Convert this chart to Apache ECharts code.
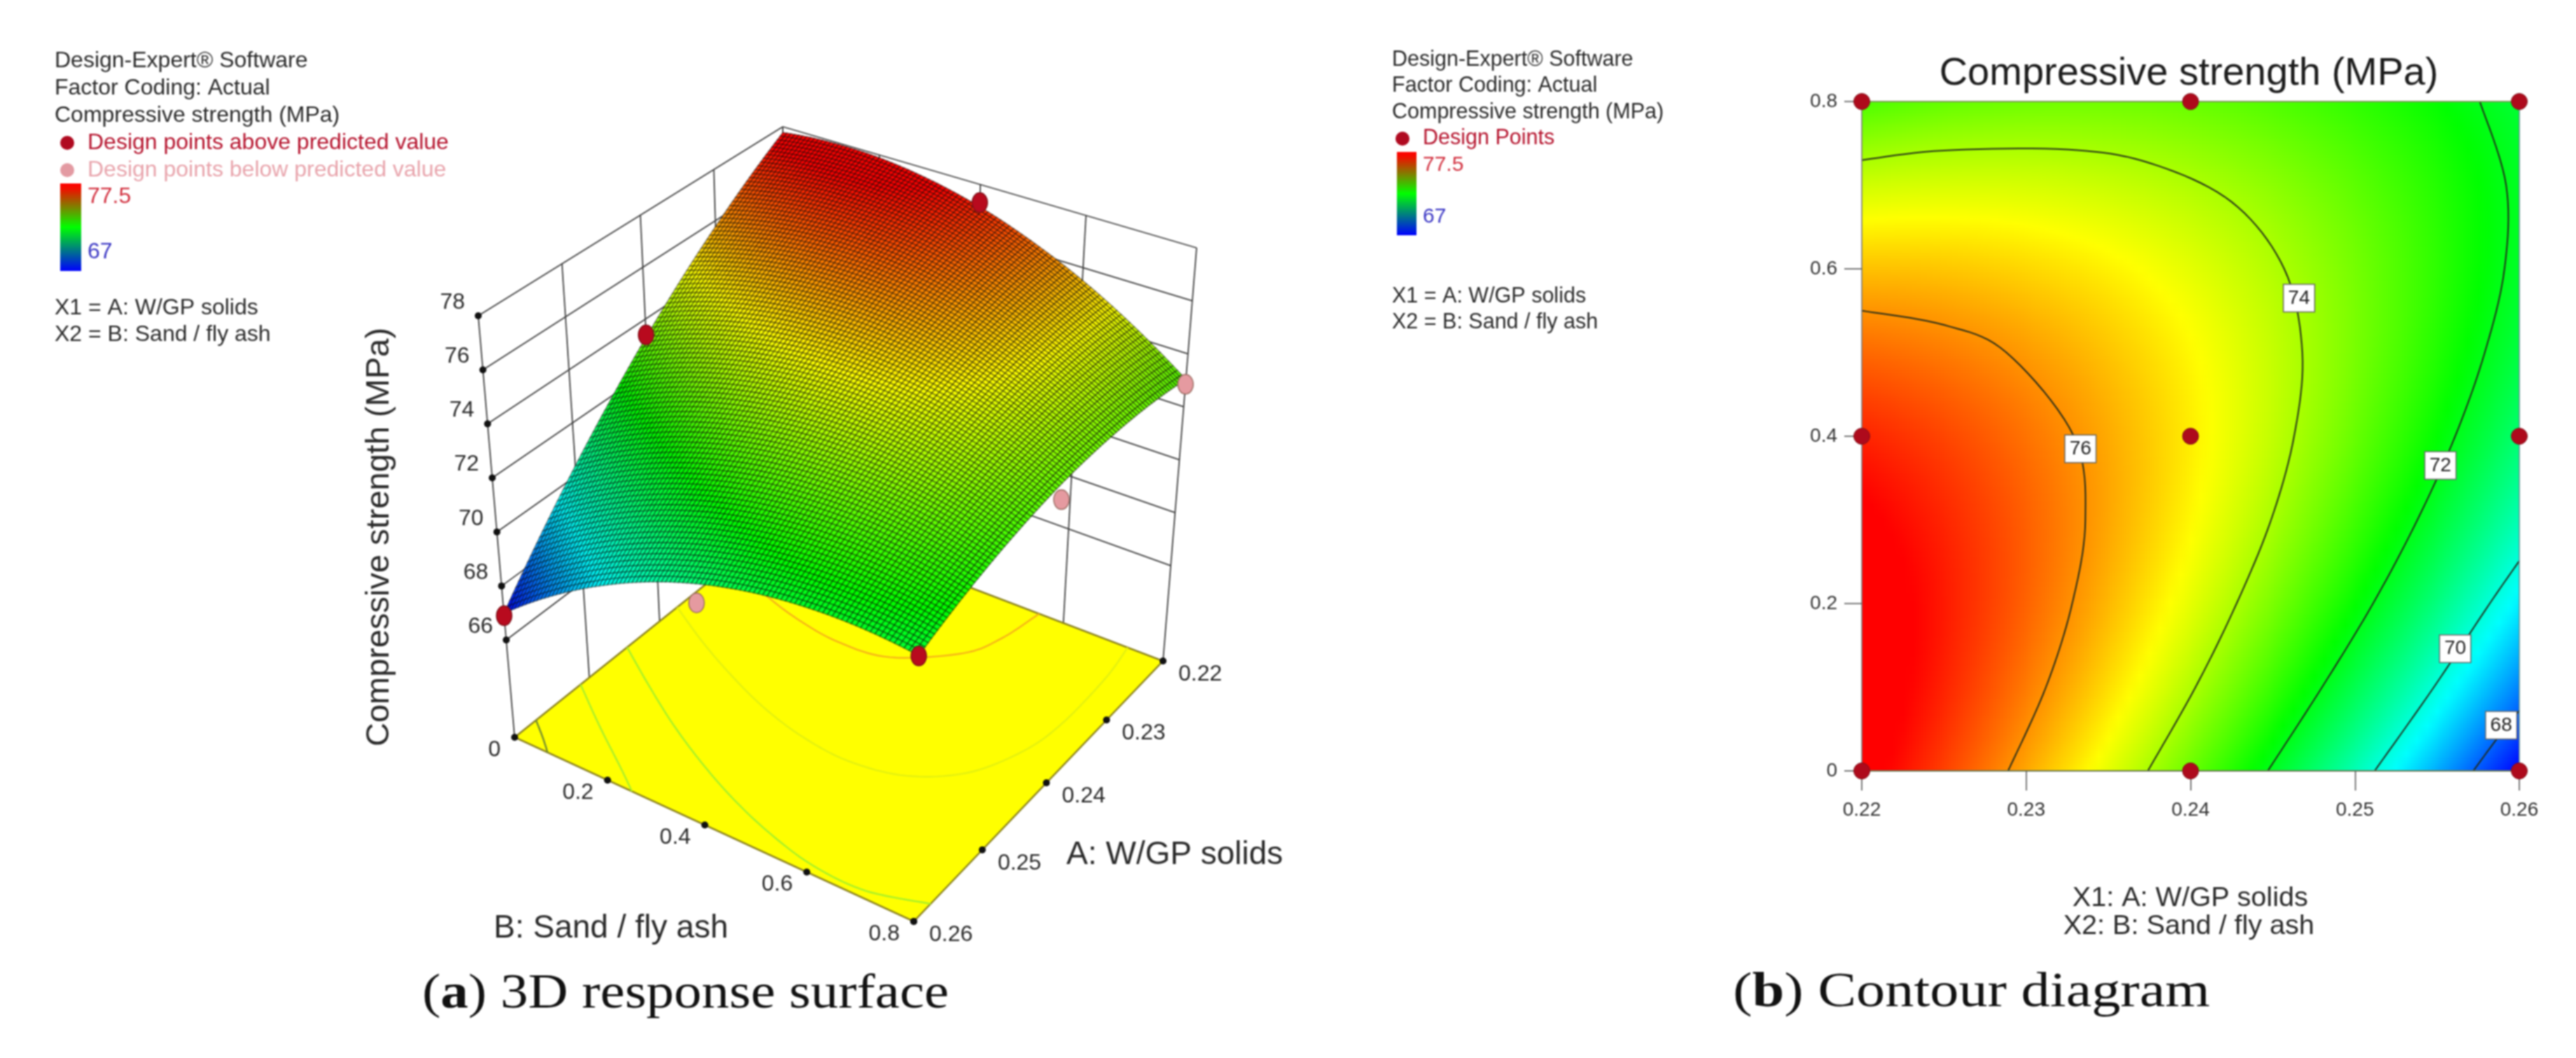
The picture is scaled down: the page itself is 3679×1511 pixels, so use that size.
<!DOCTYPE html>
<html>
<head>
<meta charset="utf-8">
<style>html,body{margin:0;padding:0;background:#fff}#c{width:3679px;height:1511px;filter:blur(0.9px)}</style>
<script src="https://cdn.jsdelivr.net/npm/echarts@6/dist/echarts.min.js"></script>
</head>
<body>
<div id="c"></div>
<script>
// ---------- data ----------
const wgpSolids = [0.22, 0.225, 0.23, 0.235, 0.24, 0.245, 0.25, 0.255, 0.26];
const sandFlyAsh = [0, 0.1, 0.2, 0.3, 0.4, 0.5, 0.6, 0.7, 0.8];
const strengthB00 = [77.77, 76.83, 75.77, 74.60, 73.31, 71.90, 70.38, 68.74, 66.99];
const strengthB01 = [77.94, 77.14, 76.23, 75.21, 74.07, 72.81, 71.43, 69.94, 68.34];
const strengthB02 = [77.89, 77.24, 76.48, 75.60, 74.61, 73.50, 72.27, 70.93, 69.47];
const strengthB03 = [77.62, 77.12, 76.51, 75.78, 74.93, 73.97, 72.89, 71.70, 70.39];
const strengthB04 = [77.14, 76.79, 76.32, 75.74, 75.04, 74.23, 73.30, 72.25, 71.09];
const strengthB05 = [76.43, 76.23, 75.91, 75.48, 74.93, 74.26, 73.48, 72.58, 71.57];
const strengthB06 = [75.52, 75.46, 75.29, 75.01, 74.60, 74.08, 73.45, 72.70, 71.83];
const strengthB07 = [74.38, 74.47, 74.45, 74.31, 74.06, 73.69, 73.20, 72.60, 71.88];
const strengthB08 = [73.03, 73.27, 73.39, 73.40, 73.30, 73.07, 72.73, 72.28, 71.71];

const contour76 = [[0.2289,0],[0.2312,0.1],[0.2328,0.2],[0.2336,0.3],[0.2329,0.4],[0.2288,0.5],[0.225,0.533],[0.22,0.55]];
const contour74 = [[0.2374,0],[0.2403,0.1],[0.2428,0.2],[0.2449,0.3],[0.2463,0.4],[0.2468,0.5],[0.2457,0.6],[0.2425,0.68],[0.2375,0.7266],[0.2325,0.7426],[0.225,0.7415],[0.22,0.73]];
const contour72 = [[0.2447,0],[0.248,0.1],[0.2511,0.2],[0.2538,0.3],[0.2561,0.4],[0.2579,0.5],[0.2591,0.6],[0.2592,0.7],[0.2576,0.8]];
const contour70 = [[0.2512,0],[0.2548,0.1],[0.2582,0.2],[0.26,0.251]];
const contour68 = [[0.2572,0],[0.2587,0.04],[0.26,0.072]];
const contourLabels = [[0.2333,0.385,'76'],[0.2466,0.565,'74'],[0.2552,0.365,'72'],[0.2561,0.146,'70'],[0.2589,0.0545,'68']];

const designA = [0.22, 0.24, 0.26];
const designB = [0, 0.4, 0.8];
const pointsAbove = [[0.26,0,66.9],[0.26,0.8,71.7],[0.22,0.4,77.3],[0.24,0,73.4]];
const pointsBelow = [[0.22,0.8,72.85],[0.26,0.4,70.4],[0.24,0.8,72.7]];

const zTicks = [66, 68, 70, 72, 74, 76, 78];
const aTicks = [0.22, 0.23, 0.24, 0.25, 0.26];
const bTicks = [0, 0.2, 0.4, 0.6, 0.8];

// ---------- view of the 3D box ----------
const FLOOR_Z = 62.4, TOP_Z = 78;
const floorQuad = [[735,1053],[1126,740],[1661,944],[1305,1316]];
const topQuad = [[683,451],[1118,181],[1709,354],[1317,680]];
function homography(q){
  const [x0,y0]=q[0],[x1,y1]=q[1],[x2,y2]=q[2],[x3,y3]=q[3];
  const dx1=x1-x2,dx2=x3-x2,dx3=x0-x1+x2-x3,dy1=y1-y2,dy2=y3-y2,dy3=y0-y1+y2-y3;
  const det=dx1*dy2-dx2*dy1, g=(dx3*dy2-dx2*dy3)/det, h=(dx1*dy3-dx3*dy1)/det;
  const a=x1-x0+g*x1,b=x3-x0+h*x3,d=y1-y0+g*y1,e=y3-y0+h*y3;
  return (u,v)=>{const w=g*u+h*v+1;return [(a*u+b*v+x0)/w,(d*u+e*v+y0)/w];};
}
const hFloor=homography(floorQuad), hTop=homography(topQuad);
function project(A,B,z){
  const u=(0.26-A)/0.04, v=B/0.8, w=(z-FLOOR_Z)/(TOP_Z-FLOOR_Z);
  const f=hFloor(u,v), t=hTop(u,v);
  return [f[0]+(t[0]-f[0])*w, f[1]+(t[1]-f[1])*w];
}

// ---------- table lookups, shading only ----------
const strengthRows=[strengthB00,strengthB01,strengthB02,strengthB03,strengthB04,strengthB05,strengthB06,strengthB07,strengthB08];
const nA=wgpSolids.length,nB=sandFlyAsh.length;
function g1(arr,i){const n=arr.length;if(i<0)return 3*arr[0]-3*arr[1]+arr[2];if(i>=n)return 3*arr[n-1]-3*arr[n-2]+arr[n-3];return arr[i];}
function cr(a,b,c,d,t){return 0.5*((2*b)+(-a+c)*t+(2*a-5*b+4*c-d)*t*t+(-a+3*b-3*c+d)*t*t*t);}
function strengthAt(fi,fj){
  let i=Math.min(Math.floor(fi),nA-2),j=Math.min(Math.floor(fj),nB-2);
  const ti=fi-i,tj=fj-j,col=[];
  for(let r=0;r<nB;r++){const a=strengthRows[r];col.push(cr(g1(a,i-1),a[i],a[i+1],g1(a,i+2),ti));}
  return cr(g1(col,j-1),col[j],col[j+1],g1(col,j+2),tj);
}
const ramp=[[0,0,255],[0,255,255],[0,255,0],[255,255,0],[255,0,0]];
function colorOf(v){
  let t=(v-67)/10.5;t=Math.max(0,Math.min(1,t))*4;
  const k=Math.min(3,Math.floor(t)),f=t-k,a=ramp[k],b=ramp[k+1];
  return 'rgb('+Math.round(a[0]+(b[0]-a[0])*f)+','+Math.round(a[1]+(b[1]-a[1])*f)+','+Math.round(a[2]+(b[2]-a[2])*f)+')';
}
const aAt=fi=>wgpSolids[0]+(wgpSolids[1]-wgpSolids[0])*fi;
const bAt=fj=>sandFlyAsh[0]+(sandFlyAsh[1]-sandFlyAsh[0])*fj;
// rounds a contour's read points into a curve through them, on screen
function curveThrough(px){
  const out=[],n=px.length,at=i=>px[Math.max(0,Math.min(n-1,i))];
  for(let i=0;i<n-1;i++)for(let s=0;s<10;s++){
    const t=s/10;
    out.push([cr(at(i-1)[0],at(i)[0],at(i+1)[0],at(i+2)[0],t),cr(at(i-1)[1],at(i)[1],at(i+1)[1],at(i+2)[1],t)]);
  }
  out.push(px[n-1]);
  return out;
}

const cells=[];
for(let i=0;i<nA-1;i++)for(let j=0;j<nB-1;j++)cells.push([i,j]);

const SANS='"Liberation Sans", Arial, sans-serif', SERIF='"Liberation Serif", serif';
const INK='#2a2a2a', RED='#b5122c', PINK='#e8a3ab', RED_NUM='#d2303f', BLUE_NUM='#3a36c4';

// ---------- render functions ----------
function renderWalls(params,api){
  const ch=[];
  const line=(p,q,w,c)=>{const a=api.coord(p),b=api.coord(q);ch.push({type:'line',shape:{x1:a[0],y1:a[1],x2:b[0],y2:b[1]},style:{stroke:c||'#3c3c3c',lineWidth:w||1.8}});};
  zTicks.forEach(z=>{
    line(project(0.26,0,z),project(0.22,0,z));
    line(project(0.22,0,z),project(0.22,0.8,z));
  });
  [0.25,0.24,0.23].forEach(a=>line(project(a,0,FLOOR_Z),project(a,0,TOP_Z)));
  [0.2,0.4,0.6].forEach(b=>line(project(0.22,b,FLOOR_Z),project(0.22,b,TOP_Z)));
  line(project(0.26,0,FLOOR_Z),project(0.26,0,TOP_Z));
  line(project(0.22,0,FLOOR_Z),project(0.22,0,TOP_Z));
  line(project(0.22,0.8,FLOOR_Z),project(0.22,0.8,TOP_Z));
  return {type:'group',children:ch};
}
function renderFloor(params,api){
  const pts=[project(0.26,0,FLOOR_Z),project(0.22,0,FLOOR_Z),project(0.22,0.8,FLOOR_Z),project(0.26,0.8,FLOOR_Z)].map(p=>api.coord(p));
  const ch=[{type:'polygon',shape:{points:pts},style:{fill:'#ffff00',stroke:'#8d8420',lineWidth:2.5}}];
  [[contour76,'#f6b21a'],[contour74,'#e3f010'],[contour72,'#a5f02a'],[contour70,'#a8ee2c'],[contour68,'#6f8a30']].forEach(c=>{
    ch.push({type:'polyline',shape:{points:curveThrough(c[0].map(p=>api.coord(project(p[0],p[1],FLOOR_Z))))},style:{stroke:c[1],lineWidth:2.4,fill:null}});
  });
  return {type:'group',children:ch};
}
const SUB3D=12;
function renderSurfaceCell(params,api){
  const ci=api.value(0),cj=api.value(1),ch=[];
  for(let s=0;s<SUB3D;s++)for(let t=0;t<SUB3D;t++){
    const fi=ci+s/SUB3D,fj=cj+t/SUB3D,d=1/SUB3D;
    const corners=[[fi,fj],[fi+d,fj],[fi+d,fj+d],[fi,fj+d]].map(c=>{
      const v=strengthAt(c[0],c[1]);return api.coord(project(aAt(c[0]),bAt(c[1]),v));
    });
    ch.push({type:'polygon',shape:{points:corners},style:{fill:colorOf(strengthAt(fi+d/2,fj+d/2)),stroke:'rgba(0,0,0,0.45)',lineWidth:1.6}});
  }
  return {type:'group',children:ch};
}
function renderPoints3D(color,border){
  return function(params,api){
    const c=api.coord(project(api.value(0),api.value(1),api.value(2)));
    return {type:'ellipse',shape:{cx:c[0],cy:c[1],rx:11,ry:14},style:{fill:color,stroke:border,lineWidth:1.5}};
  };
}
function renderTicks3D(params,api){
  const ch=[];
  const tick=(p,lab,dx,dy,align)=>{
    const c=api.coord(p);
    ch.push({type:'circle',shape:{cx:c[0],cy:c[1],r:5},style:{fill:'#111'}});
    ch.push({type:'text',x:c[0]+dx,y:c[1]+dy,style:{text:lab,font:'32px '+SANS,fill:INK,align:align,verticalAlign:'middle'}});
  };
  zTicks.forEach(z=>tick(project(0.26,0,z),String(z),-19,-19,'right'));
  aTicks.forEach(a=>tick(project(a,0.8,FLOOR_Z),a.toFixed(2),22,19,'left'));
  bTicks.forEach(b=>tick(project(0.26,b,FLOOR_Z),String(b),-20,18,'right'));
  return {type:'group',children:ch};
}
const SUBROWS=30,SUBCOLS=8;
function renderContourCell(params,api){
  const ci=api.value(0),cj=api.value(1),ch=[];
  for(let t=0;t<SUBROWS;t++){
    const fj=cj+(t+0.5)/SUBROWS;
    const top=api.coord([aAt(ci),bAt(cj+(t+1)/SUBROWS)]),bot=api.coord([aAt(ci+1),bAt(cj+t/SUBROWS)]);
    const stops=[];
    for(let s=0;s<=SUBCOLS;s++)stops.push({offset:s/SUBCOLS,color:colorOf(strengthAt(ci+s/SUBCOLS,fj))});
    ch.push({type:'rect',shape:{x:top[0],y:top[1],width:bot[0]-top[0]+(ci<nA-2?1:0),height:bot[1]-top[1]+(cj===0&&t===0?0:1)},
      style:{fill:new echarts.graphic.LinearGradient(0,0,1,0,stops)}});
  }
  return {type:'group',children:ch};
}
function renderContourLine(params,api){
  const pts=[];
  for(let i=0;i<params.dataInsideLength;i++)pts.push(api.coord([api.value(0,i),api.value(1,i)]));
  if(params.dataIndexInside!==0)return null;
  return {type:'polyline',shape:{points:curveThrough(pts)},style:{stroke:'#202a1a',lineWidth:2,fill:null}};
}

// ---------- static text ----------
function txt(text,x,y,size,fill,extra){
  return Object.assign({type:'text',x:x,y:y,silent:true,z:50,style:{text:text,font:size+'px '+SANS,fill:fill||INK,align:'left',verticalAlign:'middle'}},extra||{});
}
function ctr(text,x,y,size,fill){
  return {type:'text',x:x,y:y,silent:true,z:50,style:{text:text,font:size+'px '+SANS,fill:fill||INK,align:'center',verticalAlign:'middle'}};
}
function bar(x,y,w,h){
  return {type:'rect',silent:true,z:50,shape:{x:x,y:y,width:w,height:h},style:{fill:new echarts.graphic.LinearGradient(0,0,0,1,[{offset:0,color:'#ff0000'},{offset:0.06,color:'#f00f00'},{offset:0.5,color:'#00ff00'},{offset:1,color:'#0000ff'}])}};
}
function dot(x,y,r,fill){return {type:'circle',silent:true,z:50,shape:{cx:x,cy:y,r:r},style:{fill:fill}};}
function caption(bold,rest,x,y,scale){
  return {type:'text',x:x,y:y,scaleX:scale,silent:true,z:50,style:{
    text:'{n|(}{b|'+bold+'}{n|) '+rest+'}',align:'left',verticalAlign:'middle',
    rich:{n:{font:'70px '+SERIF,fill:'#111'},b:{font:'bold 70px '+SERIF,fill:'#111'}}}};
}
const rotated=ctr('Compressive strength (MPa)',542,767,47);
rotated.rotation=Math.PI/2;
const graphics=[
  txt('Design-Expert® Software',78,87,32),
  txt('Factor Coding: Actual',78,126,32),
  txt('Compressive strength (MPa)',78,165,32),
  dot(96,204,10,'#b00a20'),
  txt('Design points above predicted value',125,204,32,RED),
  dot(96,243,10,'#e39aa2'),
  txt('Design points below predicted value',125,243,32,PINK),
  bar(86,262,30,125),
  txt('77.5',125,281,32,RED_NUM),
  txt('67',125,360,32,BLUE_NUM),
  txt('X1 = A: W/GP solids',78,440,32),
  txt('X2 = B: Sand / fly ash',78,478,32),
  rotated,
  txt('A: W/GP solids',1523,1221,46),
  txt('B: Sand / fly ash',705,1326,46),
  caption('a','3D response surface',603,1421,1.128),

  txt('Design-Expert® Software',1988,86,30.5),
  txt('Factor Coding: Actual',1988,123,30.5),
  txt('Compressive strength (MPa)',1988,161,30.5),
  dot(2003,198,10,'#b00a20'),
  txt('Design Points',2032,198,30.5,RED),
  bar(1995,217,28,119),
  txt('77.5',2032,236,30,RED_NUM),
  txt('67',2032,310,30,BLUE_NUM),
  txt('X1 = A: W/GP solids',1988,424,30.5),
  txt('X2 = B: Sand / fly ash',1988,461,30.5),
  ctr('Compressive strength (MPa)',3126,106,56,'#1c1c1c'),
  ctr('X1: A: W/GP solids',3128,1283,39.6),
  ctr('X2: B: Sand / fly ash',3126,1323,39.6),
  caption('b','Contour diagram',2475,1419,1.176)
];

// ---------- chart ----------
const contourLine=(name,data)=>({name:name,type:'custom',xAxisIndex:1,yAxisIndex:1,data:data,renderItem:renderContourLine,silent:true,z:6,clip:false,progressive:0});
const designGrid=[];designA.forEach(a=>designB.forEach(b=>designGrid.push([a,b])));
const hiddenAxis={type:'value',show:false};
const option={
  animation:false,
  backgroundColor:'#ffffff',
  grid:[
    {left:0,top:0,width:3679,height:1511,show:false},
    {left:2659,top:145,width:939,height:956,show:false}
  ],
  xAxis:[
    Object.assign({gridIndex:0,min:0,max:3679},hiddenAxis),
    {gridIndex:1,type:'value',min:0.22,max:0.26,interval:0.01,position:'bottom',z:7,
      axisLine:{onZero:false,lineStyle:{color:'#6b7a55',width:2}},axisTick:{length:28,lineStyle:{color:'#555',width:1.6}},
      axisLabel:{margin:42,fontSize:28,fontFamily:'Liberation Sans',color:'#333',formatter:v=>v.toFixed(2)},splitLine:{show:false}},
    {gridIndex:1,type:'value',min:0.22,max:0.26,position:'top',z:7,axisLine:{onZero:false,lineStyle:{color:'#7d9a5a',width:2}},axisTick:{show:false},axisLabel:{show:false},splitLine:{show:false}}
  ],
  yAxis:[
    Object.assign({gridIndex:0,min:0,max:1511,inverse:true},hiddenAxis),
    {gridIndex:1,type:'value',min:0,max:0.8,interval:0.2,position:'left',z:7,
      axisLine:{onZero:false,lineStyle:{color:'#777',width:1.6}},axisTick:{length:25,lineStyle:{color:'#555',width:1.6}},
      axisLabel:{margin:35,fontSize:28,fontFamily:'Liberation Sans',color:'#333',formatter:v=>String(+v.toFixed(1))},splitLine:{show:false}},
    {gridIndex:1,type:'value',min:0,max:0.8,position:'right',z:7,axisLine:{onZero:false,lineStyle:{color:'#5f8f8f',width:1.6}},axisTick:{show:false},axisLabel:{show:false},splitLine:{show:false}}
  ],
  series:[
    {name:'walls',type:'custom',xAxisIndex:0,yAxisIndex:0,data:[[0]],renderItem:renderWalls,silent:true,z:1,clip:false},
    {name:'floor',type:'custom',xAxisIndex:0,yAxisIndex:0,data:[[0]],renderItem:renderFloor,silent:true,z:2,clip:false},
    {name:'ticks3d',type:'custom',xAxisIndex:0,yAxisIndex:0,data:[[0]],renderItem:renderTicks3D,silent:true,z:3,clip:false},
    {name:'surface',type:'custom',xAxisIndex:0,yAxisIndex:0,data:cells,renderItem:renderSurfaceCell,silent:true,z:4,clip:false,progressive:0},
    {name:'above',type:'custom',xAxisIndex:0,yAxisIndex:0,data:pointsAbove,renderItem:renderPoints3D('#b80a1e','#7d1018'),silent:true,z:5,clip:false},
    {name:'below',type:'custom',xAxisIndex:0,yAxisIndex:0,data:pointsBelow,renderItem:renderPoints3D('#e59aa0','#9a6a60'),silent:true,z:5,clip:false},

    {name:'contourFill',type:'custom',xAxisIndex:1,yAxisIndex:1,data:cells,renderItem:renderContourCell,silent:true,z:3,clip:false,progressive:0},
    contourLine('76',contour76),contourLine('74',contour74),contourLine('72',contour72),contourLine('70',contour70),contourLine('68',contour68),
    {name:'designPoints',type:'scatter',xAxisIndex:1,yAxisIndex:1,data:designGrid,symbol:'circle',symbolSize:23,clip:false,silent:true,z:9,itemStyle:{color:'#ae0a1c',borderColor:'#7d1018',borderWidth:1,opacity:1}},
    {name:'contourLabels',type:'scatter',xAxisIndex:1,yAxisIndex:1,data:contourLabels,symbolSize:1,itemStyle:{color:'#ffffff',opacity:1},silent:true,z:8,
      label:{show:true,position:'inside',formatter:p=>p.value[2],fontSize:28,fontFamily:'Liberation Sans',color:'#222',backgroundColor:'#ffffff',opacity:1,borderColor:'#666',borderWidth:1.5,padding:[6,6,4,6]}}
  ],
  graphic:{elements:graphics}
};
const chart=echarts.init(document.getElementById('c'),null,{renderer:'canvas',width:3679,height:1511});
chart.setOption(option);
</script>
</body>
</html>
